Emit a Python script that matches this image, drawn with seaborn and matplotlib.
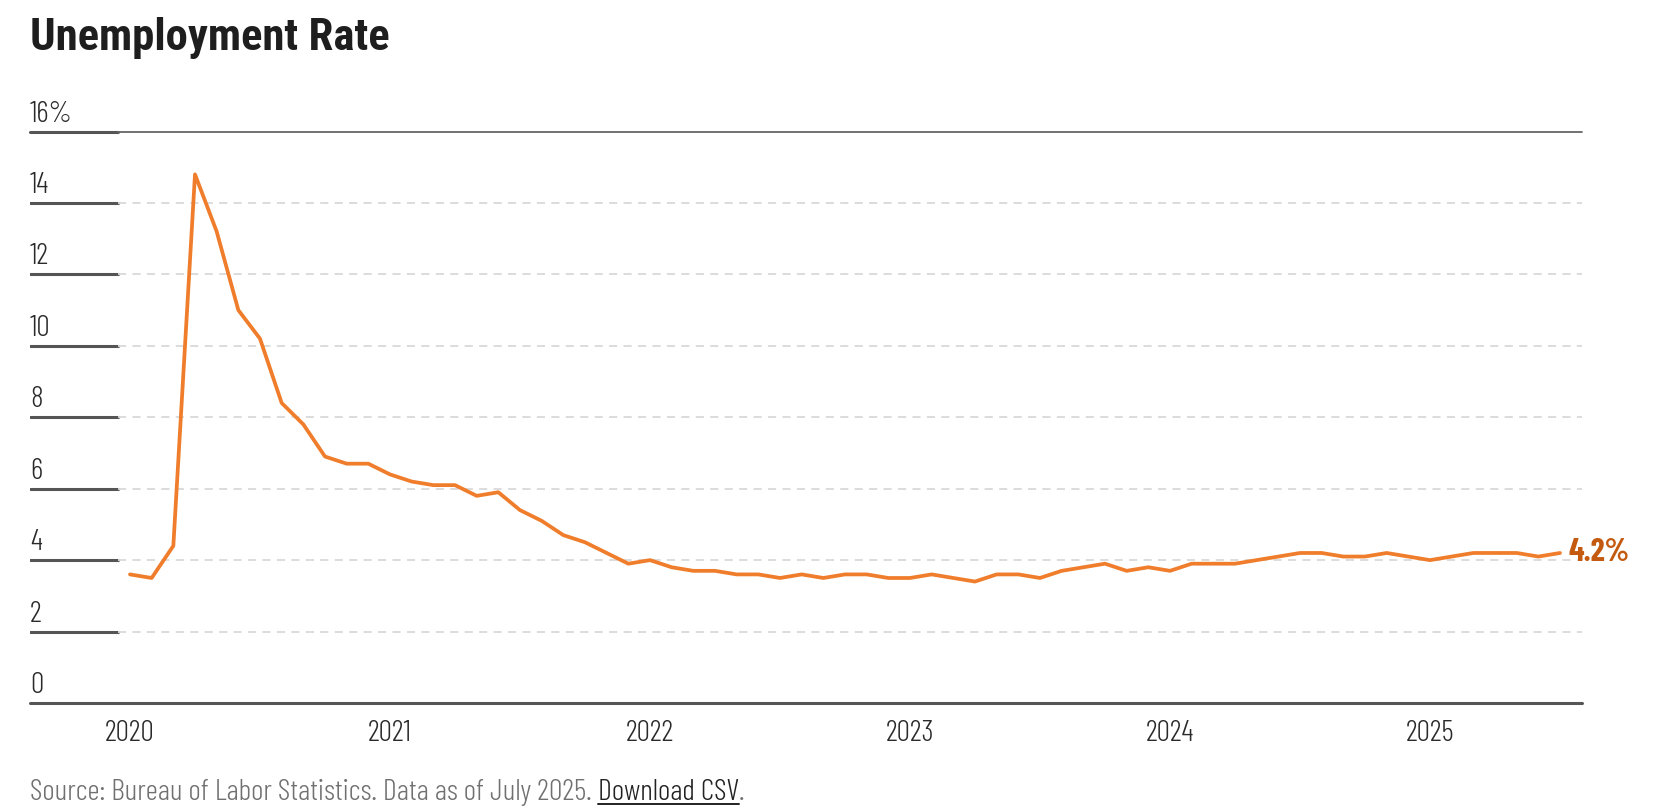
import matplotlib
matplotlib.use("Agg")
import matplotlib.pyplot as plt
import matplotlib.transforms as mtransforms
from matplotlib.lines import Line2D
import seaborn as sns
import pandas as pd

# ---- data (monthly unemployment rate, %) ----
rates_2020 = [3.6, 3.5, 4.4, 14.8, 13.2, 11.0, 10.2, 8.4, 7.8, 6.9, 6.7, 6.7]
rates_2021 = [6.4, 6.2, 6.1, 6.1, 5.8, 5.9, 5.4, 5.1, 4.7, 4.5, 4.2, 3.9]
rates_2022 = [4.0, 3.8, 3.7, 3.7, 3.6, 3.6, 3.5, 3.6, 3.5, 3.6, 3.6, 3.5]
rates_2023 = [3.5, 3.6, 3.5, 3.4, 3.6, 3.6, 3.5, 3.7, 3.8, 3.9, 3.7, 3.8]
rates_2024 = [3.7, 3.9, 3.9, 3.9, 4.0, 4.1, 4.2, 4.2, 4.1, 4.1, 4.2, 4.1]
rates_2025 = [4.0, 4.1, 4.2, 4.2, 4.2, 4.1, 4.2]
year_labels = ["2020", "2021", "2022", "2023", "2024", "2025"]
y_ticks = [0, 2, 4, 6, 8, 10, 12, 14, 16]
y_tick_labels = ["0", "2", "4", "6", "8", "10", "12", "14", "16%"]
title = "Unemployment Rate"
source_text = "Source: Bureau of Labor Statistics. Data as of July 2025. "
link_text = "Download CSV"

values = rates_2020 + rates_2021 + rates_2022 + rates_2023 + rates_2024 + rates_2025
month_index = list(range(len(values)))
df = pd.DataFrame({"month": month_index, "rate": values})
year_pos = [12 * i for i in range(len(year_labels))]

sns.set_theme(style="white")
plt.rcParams['font.family'] = ['Barlow Condensed', 'DejaVu Sans']

W, H = 1662, 810
fig = plt.figure(figsize=(W / 100, H / 100), dpi=100)
fig.patch.set_facecolor("white")

ax_left, ax_right, ax_top, ax_bottom = 30, 1582, 131.5, 703
ax = fig.add_axes([ax_left / W, 1 - ax_bottom / H, (ax_right - ax_left) / W, (ax_bottom - ax_top) / H])
ax.set_facecolor("white")

line_color = "#ef7d2b"
sns.lineplot(data=df, x="month", y="rate", ax=ax, color=line_color, linewidth=2.7,
             solid_joinstyle="round", solid_capstyle="round", zorder=5)

px_per_month = (1560 - 195) / 63.0
first_px = 195 - 3 * px_per_month
ax.set_xlim(-(first_px - ax_left) / px_per_month, 66 + (ax_right - 1560) / px_per_month)
ax.set_ylim(0, 16)

for s in ax.spines.values():
    s.set_visible(False)

stub = (118 - ax_left) / (ax_right - ax_left)
for yv in y_ticks:
    if yv == 0:
        ax.axhline(yv, 0, 1, color="#555555", lw=2.2, zorder=6, clip_on=False)
    elif yv == 16:
        ax.axhline(yv, 0, stub, color="#555555", lw=2.2, zorder=2, clip_on=False)
        ax.axhline(yv, stub, 1, color="#666666", lw=1.3, zorder=2, clip_on=False)
    else:
        ax.axhline(yv, 0, stub, color="#555555", lw=2.2, zorder=2)
        ax.axhline(yv, stub, 1, color="#d9d9d9", lw=1.3, ls=(0, (4.5, 3.5)), zorder=2)

# y tick labels above the stubs
trans = mtransforms.blended_transform_factory(ax.transAxes, ax.transData)
trans_up = mtransforms.offset_copy(trans, fig=fig, x=0, y=10, units="dots")
for yv, lab in zip(y_ticks, y_tick_labels):
    ax.text(0.0, yv, lab, transform=trans_up, ha="left", va="baseline",
            fontsize=21.5, fontweight=300, color="#2a2a2a")
ax.set_yticks([])

ax.set_xticks(year_pos)
ax.set_xticklabels(year_labels, fontsize=21.5, fontweight=300, color="#2a2a2a")
ax.tick_params(axis="x", length=0, pad=12)
ax.set_xlabel("")
ax.set_ylabel("")

# end label
ax.annotate(f"{values[-1]}%", xy=(month_index[-1], values[-1]), xytext=(9, 0),
            textcoords="offset pixels", ha="left", va="center", fontsize=23,
            fontweight="bold", color="#c45a10", annotation_clip=False)

# title
fig.text(30 / W, 1 - 50 / H, title, ha="left", va="baseline", fontsize=32.2,
         fontweight="bold", color="#1e1e1e", family=["Roboto Condensed", "DejaVu Sans"])

# source line
fs = 21.6
t1 = fig.text(30 / W, 1 - 800 / H, source_text, ha="left", va="baseline",
              fontsize=fs, fontweight=300, color="#707070")
fig.canvas.draw()
r = fig.canvas.get_renderer()
bb1 = t1.get_window_extent(r)
t2 = fig.text(bb1.x1 / W, 1 - 800 / H, link_text, ha="left", va="baseline",
              fontsize=fs, fontweight=300, color="#222222")
bb2 = t2.get_window_extent(r)
t3 = fig.text(bb2.x1 / W, 1 - 800 / H, ".", ha="left", va="baseline",
              fontsize=fs, fontweight=300, color="#707070")
uy = 1 - 804 / H
fig.add_artist(Line2D([bb2.x0 / W, bb2.x1 / W], [uy, uy], color="#222222", lw=1.4,
                      transform=fig.transFigure))

fig.savefig("out.png", dpi=100, facecolor="white")
